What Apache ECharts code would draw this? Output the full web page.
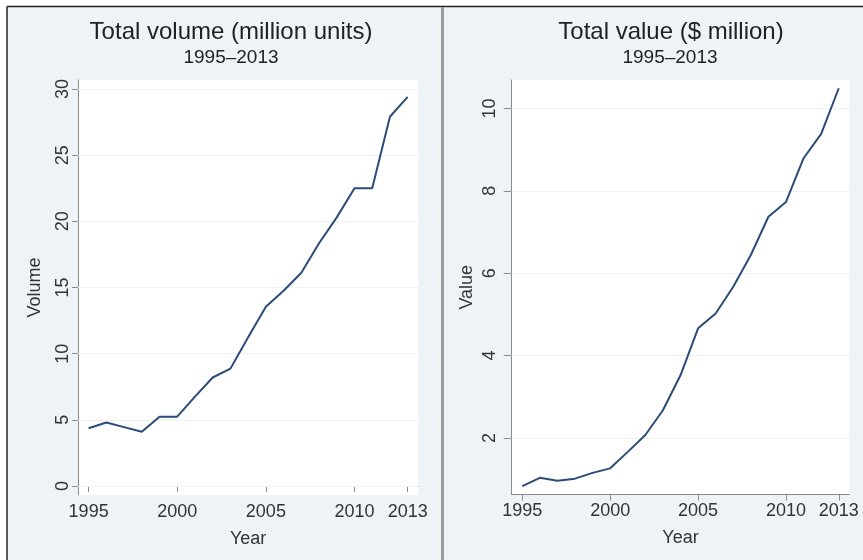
<!DOCTYPE html>
<html>
<head>
<meta charset="utf-8">
<script src="https://cdn.jsdelivr.net/npm/echarts@6/dist/echarts.min.js"></script>
<style>
html,body{margin:0;padding:0;background:#ffffff;}
#chart{width:863px;height:560px;}
</style>
</head>
<body>
<div id="chart"></div>
<script>
var years = [1995,1996,1997,1998,1999,2000,2001,2002,2003,2004,2005,2006,2007,2008,2009,2010,2011,2012,2013];
var volume = [4.36,4.8,4.45,4.1,5.24,5.24,6.75,8.2,8.87,11.24,13.55,14.76,16.12,18.34,20.3,22.5,22.5,27.9,29.4];
var value = [0.83,1.03,0.96,1.01,1.15,1.26,1.66,2.07,2.67,3.52,4.66,5.02,5.67,6.44,7.37,7.73,8.79,9.38,10.49];
var xTicks = [1995,2000,2005,2010,2013];
var volTicks = [0,5,10,15,20,25,30];
var valTicks = [2,4,6,8,10];

var FONT = 'Liberation Sans, Arial, sans-serif';
var LINE = '#2c4b79';
var AXIS = '#8c8c8c';
var GRIDC = '#edf2f5';

function pairs(xs, ys){ return xs.map(function(x,i){ return [x, ys[i]]; }); }

function xAxis(idx){
  return {
    type:'value', gridIndex:idx, min:1994.4, max:2013.6,
    name:'Year', nameLocation:'middle', nameGap:35,
    nameTextStyle:{fontFamily:FONT, fontSize:18, color:'#333'},
    axisLine:{show:true, lineStyle:{color:AXIS, width:1}},
    axisTick:{show:true, length:6, customValues:xTicks, lineStyle:{color:AXIS}},
    axisLabel:{customValues:xTicks, margin:8, fontFamily:FONT, fontSize:18, color:'#333',
      formatter:function(v){return String(v);}},
    splitLine:{show:false}
  };
}
function yAxis(idx, mn, mx, ticks, name, margin, nameGap, tickLen){
  return {
    type:'value', gridIndex:idx, min:mn, max:mx,
    name:name, nameLocation:'middle', nameGap:nameGap, nameRotate:90,
    nameTextStyle:{fontFamily:FONT, fontSize:18, color:'#333'},
    axisLine:{show:true, lineStyle:{color:AXIS, width:1}},
    axisTick:{show:true, length:tickLen, customValues:ticks, lineStyle:{color:AXIS}},
    axisLabel:{customValues:ticks, rotate:90, margin:margin, fontFamily:FONT, fontSize:18, color:'#333',
      formatter:function(v){return String(v);}},
    splitLine:{show:false}
  };
}
function series(idx, ys, ticks){
  return {
    type:'line', xAxisIndex:idx, yAxisIndex:idx, data:pairs(years, ys),
    showSymbol:false, symbol:'none', lineStyle:{color:LINE, width:2}, z:5,
    markLine:{silent:true, symbol:['none','none'], label:{show:false},
      lineStyle:{color:GRIDC, width:1, type:'solid'}, animation:false,
      data:ticks.map(function(t){return {yAxis:t};})}
  };
}

var chart = echarts.init(document.getElementById('chart'), null, {renderer:'canvas'});
chart.setOption({
  animation:false,
  backgroundColor:'#ffffff',
  graphic:[
    {type:'rect', shape:{x:7, y:7, width:856, height:553}, style:{fill:'#edf3f6'}, z:-10, silent:true},
    {type:'line', shape:{x1:7, y1:6.5, x2:863, y2:6.5}, style:{stroke:'#222', lineWidth:1.5}, z:10, silent:true},
    {type:'line', shape:{x1:7, y1:6.5, x2:7, y2:560}, style:{stroke:'#222', lineWidth:1.5}, z:10, silent:true},
    {type:'line', shape:{x1:442.5, y1:7, x2:442.5, y2:560}, style:{stroke:'#9a9a9a', lineWidth:3}, z:10, silent:true}
  ],
  title:[
    {text:'Total volume (million units)', left:226, top:15, textAlign:'center',
      textStyle:{fontFamily:FONT, fontSize:24, fontWeight:'normal', color:'#222'}},
    {text:'1995–2013', left:226, top:43, textAlign:'center',
      textStyle:{fontFamily:FONT, fontSize:19, fontWeight:'normal', color:'#222'}},
    {text:'Total value ($ million)', left:666, top:15, textAlign:'center',
      textStyle:{fontFamily:FONT, fontSize:24, fontWeight:'normal', color:'#222'}},
    {text:'1995–2013', left:665, top:43, textAlign:'center',
      textStyle:{fontFamily:FONT, fontSize:19, fontWeight:'normal', color:'#222'}}
  ],
  grid:[
    {left:78, right:444.7, top:80, bottom:65, show:true, backgroundColor:'#ffffff', borderWidth:0},
    {left:511.7, right:13.7, top:80, bottom:65.5, show:true, backgroundColor:'#ffffff', borderWidth:0}
  ],
  xAxis:[xAxis(0), xAxis(1)],
  yAxis:[
    yAxis(0, -0.68, 30.68, volTicks, 'Volume', 6, 34, 6),
    yAxis(1, 0.625, 10.69, valTicks, 'Value', 13, 36, 8)
  ],
  series:[series(0, volume, volTicks), series(1, value, valTicks)]
});
</script>
</body>
</html>
